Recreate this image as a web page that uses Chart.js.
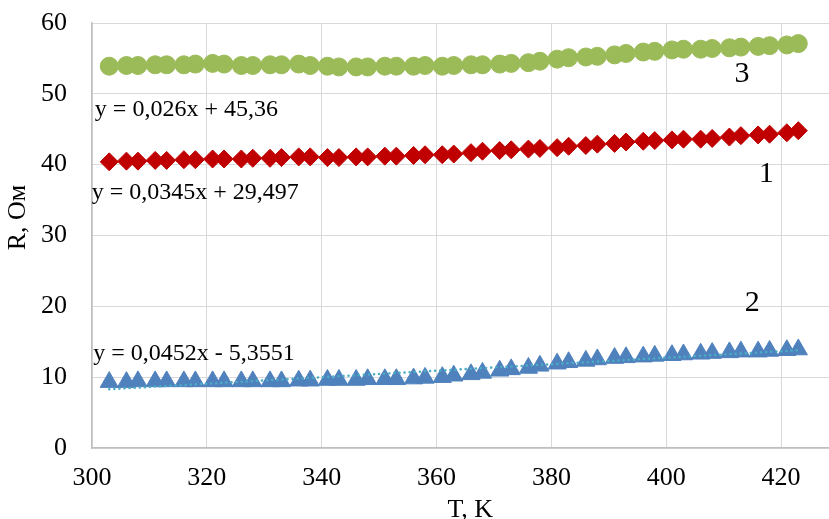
<!DOCTYPE html>
<html>
<head>
<meta charset="utf-8">
<script src="https://cdn.jsdelivr.net/npm/chart.js@4.4.1/dist/chart.umd.min.js"></script>
<style>
html,body{margin:0;padding:0;background:#fff;overflow:hidden;}
#wrap{width:829px;height:519px;overflow:hidden;position:relative;}
canvas{display:block;}
</style>
</head>
<body>
<div id="wrap"><canvas id="c" width="850" height="530"></canvas></div>
<script>
// Temperature, K
const temps = [303,306,308,311,313,316,318,321,323,326,328,331,333,336,338,341,343,346,348,351,353,356,358,361,363,366,368,371,373,376,378,381,383,386,388,391,393,396,398,401,403,406,408,411,413,416,418,421,423];
// Series 3 (green circles), R, Ohm
const r3 = [53.9,54.0,54.0,54.1,54.1,54.1,54.2,54.3,54.2,54.0,54.0,54.1,54.1,54.2,54.0,53.9,53.8,53.8,53.8,53.9,53.9,53.9,54.0,53.9,54.0,54.1,54.1,54.2,54.3,54.4,54.6,54.9,55.1,55.2,55.3,55.5,55.7,55.9,56.0,56.2,56.3,56.3,56.4,56.5,56.6,56.7,56.8,56.9,57.1];
// Series 1 (red diamonds)
const r1 = [40.4,40.5,40.5,40.6,40.6,40.7,40.7,40.8,40.8,40.8,40.9,40.9,41.0,41.1,41.1,41.0,41.0,41.1,41.1,41.2,41.2,41.3,41.4,41.4,41.5,41.7,41.9,42.0,42.1,42.2,42.3,42.4,42.6,42.7,42.9,43.0,43.2,43.3,43.4,43.5,43.6,43.6,43.7,43.9,44.1,44.2,44.3,44.5,44.8];
// Series 2 (blue triangles)
const r2 = [9.3,9.3,9.4,9.4,9.4,9.4,9.4,9.4,9.4,9.4,9.4,9.4,9.4,9.5,9.5,9.6,9.6,9.6,9.7,9.7,9.7,9.8,9.9,10.0,10.2,10.4,10.6,10.9,11.1,11.3,11.6,11.9,12.1,12.3,12.5,12.7,12.8,12.9,13.0,13.1,13.2,13.3,13.4,13.5,13.6,13.6,13.7,13.8,13.9];
// Linear trend of series 2 (end points)
const trendT = [303, 423];
const trendR = [8.3, 13.8];
// Tick settings
const xTicks = {min:300, max:430, step:20};
const yTicks = {min:0, max:60, step:10};
// Annotations (text, position in data units)
const notes = [
  {text:'y = 0,026x + 45,36', x:300.5, y:47.7, size:24, align:'left'},
  {text:'y = 0,0345x + 29,497', x:299.95, y:36.1, size:24, align:'left'},
  {text:'y = 0,0452x - 5,3551', x:300.2, y:13.3, size:24, align:'left'},
  {text:'3', x:413.2, y:52.8, size:30, align:'center'},
  {text:'1', x:417.4, y:38.6, size:30, align:'center'},
  {text:'2', x:415.0, y:20.4, size:30, align:'center'}
];
const xTitle = 'T, K';
const yTitle = 'R, Ом';

const FONT = "'Liberation Serif','Times New Roman',serif";
const pts = (ys) => temps.map((t,i)=>({x:t, y:ys[i]}));

const notesPlugin = {
  id:'notes',
  afterDatasetsDraw(chart){
    const {ctx, scales:{x, y}} = chart;
    ctx.save();
    ctx.fillStyle = '#000';
    ctx.textBaseline = 'middle';
    notes.forEach(n=>{
      ctx.font = n.size + 'px ' + FONT;
      ctx.textAlign = n.align;
      ctx.fillText(n.text, x.getPixelForValue(n.x), y.getPixelForValue(n.y));
    });
    // axis titles
    ctx.font = '26px ' + FONT;
    ctx.textAlign = 'center';
    ctx.fillText(xTitle, (x.left + x.right)/2 + 5, 510);
    ctx.save();
    ctx.translate(18, (y.top + y.bottom)/2 - 18);
    ctx.rotate(-Math.PI/2);
    ctx.fillText(yTitle, 0, 0);
    ctx.restore();
    ctx.restore();
  }
};

new Chart(document.getElementById('c'), {
  type:'scatter',
  data:{
    datasets:[
      {label:'trend2', data:trendT.map((t,i)=>({x:t,y:trendR[i]})), showLine:true,
       borderColor:'#4BACC6', borderWidth:2.5, borderDash:[0.1,5], borderCapStyle:'round',
       pointRadius:0, fill:false},
      {label:'2', data:pts(r2), pointStyle:'triangle', pointRadius:10.5,
       backgroundColor:'#4F81BD', borderColor:'#4F81BD', borderWidth:1, showLine:false},
      {label:'1', data:pts(r1), pointStyle:'rectRot', pointRadius:9,
       backgroundColor:'#C00000', borderColor:'#C00000', borderWidth:1, showLine:false},
      {label:'3', data:pts(r3), pointStyle:'circle', pointRadius:9,
       backgroundColor:'#9BBB59', borderColor:'#9BBB59', borderWidth:1, showLine:false}
    ]
  },
  options:{
    responsive:false, animation:false, devicePixelRatio:1,
    layout:{padding:{left:0, right:8, top:23, bottom:0}},
    plugins:{legend:{display:false}, tooltip:{enabled:false}},
    scales:{
      x:{
        type:'linear', min:xTicks.min, max:xTicks.max,
        afterFit(s){ s.height = 82; },
        grid:{color:'#D9D9D9', lineWidth:1, drawTicks:true, tickLength:15, tickColor:'rgba(0,0,0,0)'},
        border:{color:'#BFBFBF', width:1.5},
        ticks:{stepSize:xTicks.step, includeBounds:false, autoSkip:false, maxRotation:0, padding:0, color:'#000',
          font:{family:FONT, size:26}}
      },
      y:{
        type:'linear', min:yTicks.min, max:yTicks.max,
        afterFit(s){ s.width = 92; },
        grid:{color:'#D9D9D9', lineWidth:1, drawTicks:true, tickLength:25, tickColor:'rgba(0,0,0,0)'},
        border:{color:'#BFBFBF', width:1.5},
        ticks:{stepSize:yTicks.step, padding:0, color:'#000',
          font:{family:FONT, size:26}}
      }
    }
  },
  plugins:[notesPlugin]
});
</script>
</body>
</html>
